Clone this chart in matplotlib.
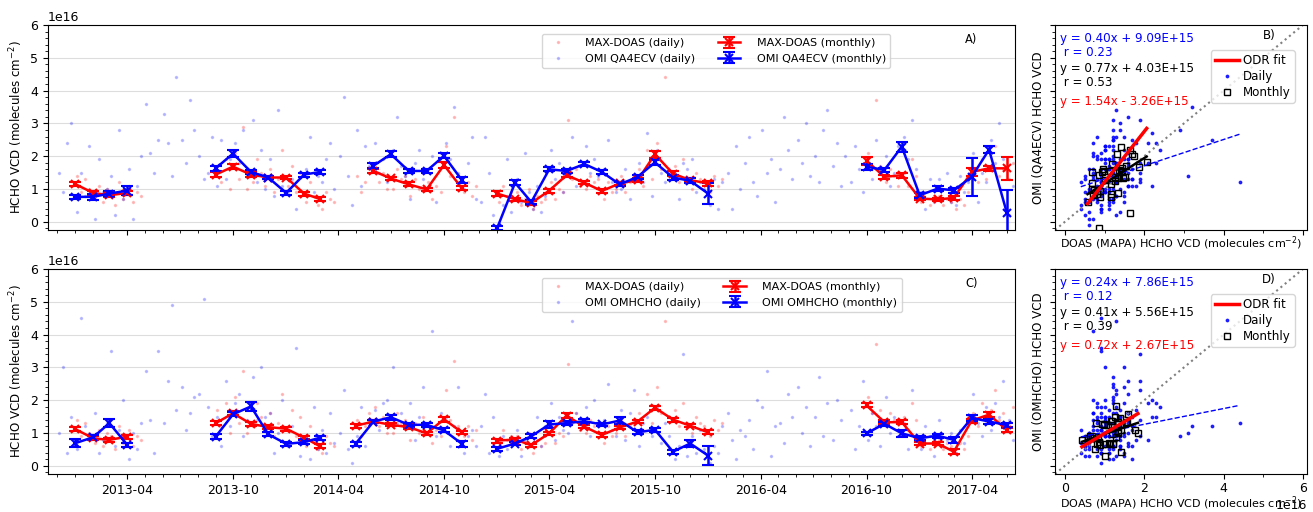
import matplotlib
matplotlib.use('Agg')
import matplotlib.pyplot as plt
import matplotlib.dates as mdates
from matplotlib.ticker import AutoMinorLocator
import numpy as np
import pandas as pd

nan = np.nan
scale = 1e16

# monthly means (units of 1e16 molec cm-2), Jan 2013 .. Jun 2017
months = pd.date_range('2013-01-01', periods=54, freq='MS')

doas_qa_monthly = [1.15, 0.88, 0.81, 0.88, nan, nan, nan, nan, 1.44, 1.68, 1.44, 1.35,
                   1.35, 0.86, 0.69, nan, nan, 1.55, 1.32, 1.14, 0.99, 1.73, 1.02, nan,
                   0.86, 0.69, 0.57, 0.95, 1.42, 1.19, 0.94, 1.17, 1.27, 2.06, 1.47, 1.27,
                   1.17, nan, nan, nan, nan, nan, nan, nan, nan, 1.86, 1.37, 1.42,
                   0.71, 0.68, 0.73, 1.52, 1.63, 1.63]
doas_qa_err = [0.06, 0.06, 0.06, 0.07, 0, 0, 0, 0, 0.07, 0.08, 0.07, 0.06,
               0.06, 0.06, 0.06, 0, 0, 0.06, 0.06, 0.06, 0.05, 0.09, 0.06, 0,
               0.07, 0.05, 0.05, 0.06, 0.06, 0.05, 0.05, 0.05, 0.06, 0.10, 0.07, 0.06,
               0.08, 0, 0, 0, 0, 0, 0, 0, 0, 0.12, 0.07, 0.07,
               0.05, 0.05, 0.06, 0.12, 0.08, 0.36]
qa4ecv_monthly = [0.76, 0.76, 0.86, 0.95, nan, nan, nan, nan, 1.63, 2.08, 1.52, 1.35,
                  0.88, 1.44, 1.52, nan, nan, 1.71, 2.06, 1.55, 1.55, 2.01, 1.27, nan,
                  -0.19, 1.19, 0.60, 1.60, 1.55, 1.76, 1.52, 1.14, 1.37, 1.81, 1.35, 1.25,
                  0.86, nan, nan, nan, nan, nan, nan, nan, nan, 1.68, 1.58, 2.29,
                  0.81, 1.01, 0.96, 1.37, 2.20, 0.26]
qa4ecv_err = [0.07, 0.09, 0.07, 0.14, 0, 0, 0, 0, 0.08, 0.10, 0.07, 0.06,
              0.07, 0.06, 0.06, 0, 0, 0.07, 0.09, 0.06, 0.06, 0.08, 0.10, 0,
              0.07, 0.08, 0.06, 0.06, 0.06, 0.07, 0.07, 0.06, 0.07, 0.08, 0.07, 0.07,
              0.32, 0, 0, 0, 0, 0, 0, 0, 0, 0.09, 0.07, 0.15,
              0.07, 0.07, 0.08, 0.58, 0.10, 0.72]

doas_om_monthly = [1.12, 0.84, 0.79, 0.89, nan, nan, nan, nan, 1.30, 1.60, 1.28, 1.18,
                   1.13, 0.86, 0.59, nan, 1.22, 1.35, 1.25, 1.18, 0.99, 1.42, 1.02, nan,
                   0.77, 0.80, 0.63, 0.99, 1.53, 1.19, 0.94, 1.17, 1.35, 1.77, 1.41, 1.22,
                   1.02, nan, nan, nan, nan, nan, nan, nan, nan, 1.84, 1.33, 1.33,
                   0.68, 0.68, 0.43, 1.38, 1.56, 1.09]
doas_om_err = [0.06, 0.06, 0.05, 0.06, 0, 0, 0, 0, 0.06, 0.06, 0.06, 0.06,
               0.06, 0.05, 0.06, 0, 0.06, 0.05, 0.05, 0.05, 0.05, 0.07, 0.05, 0,
               0.06, 0.05, 0.05, 0.05, 0.07, 0.05, 0.05, 0.05, 0.06, 0.06, 0.06, 0.05,
               0.06, 0, 0, 0, 0, 0, 0, 0, 0, 0.06, 0.07, 0.07,
               0.05, 0.05, 0.08, 0.06, 0.07, 0.07]
omhcho_monthly = [0.69, 0.87, 1.30, 0.64, nan, nan, nan, nan, 0.89, 1.57, 1.81, 0.96,
                  0.67, 0.72, 0.86, nan, 0.67, 1.35, 1.48, 1.25, 1.25, 1.08, 0.67, nan,
                  0.52, 0.68, 0.90, 1.26, 1.30, 1.36, 1.26, 1.38, 1.02, 1.10, 0.43, 0.68,
                  0.31, nan, nan, nan, nan, nan, nan, nan, nan, 0.99, 1.28, 0.99,
                  0.84, 0.92, 0.79, 1.46, 1.35, 1.24]
omhcho_err = [0.12, 0.06, 0.12, 0.07, 0, 0, 0, 0, 0.07, 0.06, 0.13, 0.06,
              0.07, 0.07, 0.06, 0, 0.06, 0.06, 0.07, 0.06, 0.07, 0.06, 0.10, 0,
              0.06, 0.06, 0.06, 0.10, 0.07, 0.07, 0.06, 0.10, 0.06, 0.06, 0.06, 0.10,
              0.30, 0, 0, 0, 0, 0, 0, 0, 0, 0.05, 0.06, 0.10,
              0.06, 0.06, 0.08, 0.08, 0.07, 0.06]

# daily samples, 4 per month, Dec 2012 .. Jun 2017
daily_months = pd.date_range('2012-12-01', periods=55, freq='MS')
daily_days = [3, 10, 17, 24]

doas_daily = [
    [nan, nan, nan, nan],
    [1.4, 0.9, 1.3, 1.0], [0.7, 1.1, 0.6, 1.0], [0.9, 0.5, 1.2, 0.7], [1.1, 0.6, 0.9, 0.8],
    [nan, nan, nan, nan], [nan, nan, nan, nan], [nan, nan, nan, nan], [nan, nan, nan, nan],
    [1.7, 1.2, 1.9, 1.0], [2.1, 1.3, 2.9, 1.0], [1.2, 1.9, 1.5, 1.1], [1.6, 0.9, 1.3, 2.2],
    [1.1, 1.7, 0.9, 1.5], [0.6, 1.2, 0.8, 0.5], [0.4, 0.9, 0.7, 0.6], [nan, nan, nan, nan],
    [1.4, 0.9, 1.2, 1.6], [1.8, 1.2, 1.5, 1.0], [1.0, 1.6, 1.3, 1.4], [0.8, 1.3, 1.0, 1.5],
    [1.2, 0.7, 1.1, 0.9], [2.3, 1.4, 3.2, 1.2], [0.9, 1.2, 0.8, 1.1], [nan, nan, nan, nan],
    [0.6, 1.1, 0.8, 0.9], [0.9, 0.5, 0.7, 1.0], [0.4, 0.8, 0.6, 0.7], [1.2, 0.7, 1.0, 0.9],
    [3.1, 1.3, 1.6, 1.1], [1.0, 1.4, 1.2, 1.3], [0.7, 1.2, 0.9, 1.0], [1.4, 0.9, 1.2, 1.3],
    [1.6, 1.1, 2.2, 1.3], [2.4, 1.6, 4.4, 1.5], [1.7, 1.2, 1.9, 1.3], [1.0, 1.5, 1.3, 1.2],
    [0.9, 1.4, 1.1, 1.3],
    [nan, nan, nan, nan], [nan, nan, nan, nan], [nan, nan, nan, nan], [nan, nan, nan, nan],
    [nan, nan, nan, nan], [nan, nan, nan, nan], [nan, nan, nan, nan], [nan, nan, nan, nan],
    [2.1, 1.6, 3.7, 1.7], [1.2, 1.6, 1.4, 1.1], [1.5, 1.1, 1.9, 1.4],
    [0.6, 0.9, 0.5, 0.8], [0.8, 0.5, 0.7, 0.6], [0.4, 0.7, 0.5, 0.9],
    [1.6, 1.2, 1.9, 1.3], [1.7, 2.3, 1.4, 1.6], [1.3, 1.8, 1.1, 1.5],
]

qa4ecv_daily = [
    [1.5, 0.9, 2.4, 3.0],
    [0.3, 1.5, 0.8, 2.3], [0.1, 1.9, 0.9, 1.0], [1.4, 0.2, 2.8, 0.7], [1.6, 0.1, 1.1, 2.0],
    [3.6, 2.1, 1.5, 2.5], [3.3, 2.4, 1.4, 4.4], [2.5, 1.8, 3.7, 2.8], [2.0, 1.3, 1.5, 2.6],
    [1.1, 2.5, 1.3, 1.9], [2.4, 1.8, 2.8, 1.6], [3.1, 1.2, 2.2, 1.0], [1.9, 0.8, 3.4, 1.1],
    [0.9, 1.3, 0.4, 0.8], [1.6, 2.6, 0.9, 1.4], [1.2, 1.9, 2.4, 1.0], [2.0, 3.8, 1.4, 0.5],
    [2.8, 1.1, 2.3, 1.7], [2.4, 1.5, 1.9, 1.2], [2.2, 3.2, 1.7, 1.4], [0.7, 1.8, 2.2, 1.3],
    [1.6, 2.0, 0.6, 2.1], [2.4, 1.9, 3.5, 1.5], [1.0, 1.8, 2.6, 0.7], [0.6, 2.6, 1.5, 0.2],
    [-0.1, 0.5, 1.9, 0.3], [1.3, 0.6, 2.1, 0.9], [0.4, 1.1, 0.3, 0.8], [2.2, 1.3, 1.8, 0.9],
    [1.4, 2.6, 1.1, 1.7], [2.3, 1.5, 1.9, 1.4], [1.6, 2.5, 1.2, 0.9], [1.0, 1.6, 0.7, 1.4],
    [1.8, 1.2, 2.7, 0.8], [2.2, 1.5, 1.2, 1.6], [1.3, 0.7, 1.8, 1.6], [1.9, 0.9, 1.2, 1.0],
    [0.5, 1.3, 0.4, 1.2],
    [1.5, 0.4, 2.3, 1.0], [1.8, 2.6, 1.2, 0.8], [2.8, 1.5, 1.9, 0.6], [1.6, 3.2, 2.2, 1.3],
    [2.5, 1.8, 3.0, 1.4], [2.0, 1.2, 2.8, 3.4], [1.7, 2.4, 1.1, 2.0], [1.2, 2.3, 1.6, 0.9],
    [1.8, 1.3, 2.5, 1.6], [2.0, 1.1, 1.5, 2.3], [2.6, 1.9, 3.1, 1.6],
    [0.9, 0.4, 1.3, 0.6], [1.3, 0.7, 1.5, 0.6], [0.5, 1.4, 0.9, 1.2],
    [2.1, 0.6, 1.5, 1.2], [2.5, 1.8, 3.0, 1.9], [0.2, 1.1, 1.6, 0.6],
]

omhcho_daily = [
    [1.0, 3.0, 0.4, 1.5],
    [0.5, 4.5, 1.2, 0.9], [1.6, 0.4, 0.8, 1.3], [3.5, 0.6, 1.1, 2.0], [0.2, 1.0, 0.5, 1.3],
    [2.9, 1.4, 0.4, 3.5], [1.3, 2.6, 4.9, 1.7], [2.4, 1.1, 1.6, 2.1], [2.2, 5.1, 1.8, 0.9],
    [1.5, 0.6, 2.6, 1.2], [1.9, 2.2, 0.9, 1.4], [2.7, 1.4, 3.0, 1.5], [1.6, 0.4, 1.0, 2.0],
    [0.6, 1.2, 3.6, 0.3], [0.9, 0.2, 1.8, 0.5], [1.1, 0.4, 1.6, 0.7], [1.0, 2.3, 0.5, 0.1],
    [0.9, 1.8, 0.6, 1.4], [1.7, 1.1, 1.9, 2.0], [3.0, 1.3, 1.6, 1.2], [1.9, 0.8, 1.5, 2.4],
    [1.0, 4.1, 0.9, 1.6], [1.5, 0.6, 1.2, 2.4], [0.4, 0.9, 1.1, 0.6], [1.2, 2.2, 0.4, 1.5],
    [0.3, 0.9, 0.5, 0.7], [1.1, 0.3, 0.8, 0.6], [0.7, 1.5, 0.6, 1.2], [1.9, 0.8, 1.5, 1.1],
    [1.0, 4.4, 1.6, 1.3], [1.8, 0.9, 2.0, 1.2], [1.4, 2.5, 1.1, 0.9], [1.7, 0.8, 1.6, 2.3],
    [0.6, 1.3, 1.5, 0.9], [1.8, 0.7, 1.3, 0.9], [0.2, 0.6, 3.4, 0.3], [0.9, 0.4, 1.1, 0.5],
    [0.1, 0.6, 0.4, 1.2],
    [1.6, 0.8, 0.2, 1.1], [0.9, 1.4, 0.5, 2.0], [1.8, 2.9, 0.3, 1.2], [1.3, 0.7, 2.2, 1.5],
    [2.4, 1.0, 1.8, 0.6], [1.5, 2.7, 0.9, 1.9], [0.8, 2.0, 1.4, 4.9], [1.7, 0.5, 1.2, 2.6],
    [0.8, 1.6, 1.2, 0.6], [2.1, 1.0, 1.5, 0.9], [1.3, 0.5, 2.3, 0.8],
    [0.5, 1.2, 0.9, 0.3], [1.4, 0.6, 0.8, 1.0], [0.4, 1.1, 0.7, 1.5],
    [2.2, 1.3, 0.9, 1.8], [1.1, 1.9, 1.5, 2.6], [1.4, 0.8, 1.7, 1.0],
]

# regression results shown in the scatter panels (slope, intercept in 1e16)
fit_b_daily = (0.40, 0.909)
fit_b_monthly = (0.77, 0.403)
fit_b_odr = (1.54, -0.326)
fit_d_daily = (0.24, 0.786)
fit_d_monthly = (0.41, 0.556)
fit_d_odr = (0.72, 0.267)

plt.rcParams['font.size'] = 8.3
plt.rcParams['xtick.labelsize'] = 9
plt.rcParams['ytick.labelsize'] = 9

daily_dates = [m + pd.Timedelta(days=d) for m in daily_months for d in daily_days]
doas_d = np.ravel(doas_daily)

fig = plt.figure(figsize=(13.13, 5.12), dpi=100)
ax_a = fig.add_axes([0.0366, 0.5508, 0.7365, 0.4004])
ax_c = fig.add_axes([0.0366, 0.0742, 0.7365, 0.4004], sharex=ax_a)
ax_b = fig.add_axes([0.8035, 0.5508, 0.1919, 0.4004])
ax_d = fig.add_axes([0.8035, 0.0742, 0.1919, 0.4004], sharex=ax_b)

ylim = (-0.25e16, 6e16)


def time_panel(ax, omi_daily, doas_m, doas_e, omi_m, omi_e, name, label):
    omi_d = np.ravel(omi_daily)
    ax.plot(daily_dates, doas_d * scale, '.', color='red', ms=3, alpha=0.2,
            label='MAX-DOAS (daily)')
    ax.plot(daily_dates, omi_d * scale, '.', color='blue', ms=3, alpha=0.2,
            label='OMI %s (daily)' % name)
    ax.errorbar(months, np.array(doas_m) * scale, yerr=np.array(doas_e) * scale,
                color='red', marker='x', ms=6, mew=1.5, lw=1.8, capsize=4,
                capthick=1.5, label='MAX-DOAS (monthly)')
    ax.errorbar(months, np.array(omi_m) * scale, yerr=np.array(omi_e) * scale,
                color='blue', marker='x', ms=6, mew=1.5, lw=1.8, capsize=4,
                capthick=1.5, label='OMI %s (monthly)' % name)
    ax.set_ylim(ylim)
    ax.set_xlim(pd.Timestamp('2012-11-15'), pd.Timestamp('2017-06-15'))
    ax.yaxis.grid(True, color='#dddddd', lw=0.8)
    ax.set_axisbelow(True)
    ax.yaxis.set_minor_locator(AutoMinorLocator())
    ax.xaxis.set_major_locator(mdates.MonthLocator(bymonth=[4, 10]))
    ax.xaxis.set_minor_locator(mdates.MonthLocator())
    ax.xaxis.set_major_formatter(mdates.DateFormatter('%Y-%m'))
    ax.set_ylabel('HCHO VCD (molecules cm$^{-2}$)', fontsize=8.6)
    ax.legend(ncol=2, loc='upper left', bbox_to_anchor=(0.505, 0.985), fontsize=8,
              columnspacing=2.0, handletextpad=1.5)
    ax.text(0.955, 0.93, label, transform=ax.transAxes, ha='center', va='center')


time_panel(ax_a, qa4ecv_daily, doas_qa_monthly, doas_qa_err, qa4ecv_monthly, qa4ecv_err,
           'QA4ECV', 'A)')
time_panel(ax_c, omhcho_daily, doas_om_monthly, doas_om_err, omhcho_monthly, omhcho_err,
           'OMHCHO', 'C)')
ax_a.tick_params(labelbottom=False)


def scatter_panel(ax, omi_daily, doas_m, omi_m, fits, rvals, name, label):
    omi_d = np.ravel(omi_daily)
    ok = ~np.isnan(doas_d) & ~np.isnan(omi_d)
    xd, yd = doas_d[ok], omi_d[ok]
    xm, ym = np.array(doas_m), np.array(omi_m)
    okm = ~np.isnan(xm) & ~np.isnan(ym)
    xm, ym = xm[okm], ym[okm]

    ax.plot(xd * scale, yd * scale, '.', color='blue', ms=3.5, alpha=0.8, label='Daily')
    ax.plot([-1e16, 7e16], [-1e16, 7e16], ':', color='grey', lw=1.5)
    ax.plot(xm * scale, ym * scale, 's', mfc='none', mec='black', ms=5, mew=1,
            label='Monthly')
    fd, fm, fo = fits
    xx = np.array([xd.min(), xd.max()])
    ax.plot(xx * scale, (fd[0] * xx + fd[1]) * scale, '--', color='blue', lw=1)
    xx = np.array([xm.min(), xm.max()])
    ax.plot(xx * scale, (fm[0] * xx + fm[1]) * scale, '-', color='black', lw=1.8)
    ax.plot(xx * scale, (fo[0] * xx + fo[1]) * scale, '-', color='red', lw=2.5,
            label='ODR fit')

    def eq(f):
        sign = '+' if f[1] >= 0 else '-'
        return 'y = %.2fx %s %.2fE+15' % (f[0], sign, abs(f[1]) * 10)

    kw = dict(transform=ax.transAxes, va='center', fontsize=8.6)
    ax.text(0.02, 0.935, eq(fd), color='blue', **kw)
    ax.text(0.02, 0.865, ' r = %.2f' % rvals[0], color='blue', **kw)
    ax.text(0.02, 0.79, eq(fm), color='black', **kw)
    ax.text(0.02, 0.72, ' r = %.2f' % rvals[1], color='black', **kw)
    ax.text(0.02, 0.625, eq(fo), color='red', **kw)
    ax.text(0.85, 0.95, label, ha='center', **kw)

    h, l = ax.get_legend_handles_labels()
    order = [l.index('ODR fit'), l.index('Daily'), l.index('Monthly')]
    ax.legend([h[i] for i in order], [l[i] for i in order], loc='upper right',
              bbox_to_anchor=(0.975, 0.905), fontsize=8.6, handlelength=2,
              borderpad=0.3, labelspacing=0.25, handletextpad=0.4)

    ax.set_ylim(ylim)
    ax.set_xlim(-0.25e16, 6.1e16)
    ax.set_xticks([0, 2e16, 4e16, 6e16])
    ax.xaxis.set_minor_locator(AutoMinorLocator(2))
    ax.yaxis.set_minor_locator(AutoMinorLocator())
    ax.tick_params(labelleft=False)
    ax.tick_params(axis='x', pad=2)
    ax.yaxis.get_offset_text().set_visible(False)
    ax.set_ylabel('OMI (%s) HCHO VCD' % name, labelpad=2, fontsize=8.6)
    ax.set_xlabel('DOAS (MAPA) HCHO VCD (molecules cm$^{-2}$)', labelpad=0, fontsize=8)


scatter_panel(ax_b, qa4ecv_daily, doas_qa_monthly, qa4ecv_monthly,
              (fit_b_daily, fit_b_monthly, fit_b_odr), (0.23, 0.53), 'QA4ECV', 'B)')
scatter_panel(ax_d, omhcho_daily, doas_om_monthly, omhcho_monthly,
              (fit_d_daily, fit_d_monthly, fit_d_odr), (0.12, 0.39), 'OMHCHO', 'D)')
ax_b.tick_params(labelbottom=False)
ax_b.xaxis.get_offset_text().set_visible(False)
ax_b.xaxis.labelpad = -2

fig.savefig('out.png', dpi=100)
